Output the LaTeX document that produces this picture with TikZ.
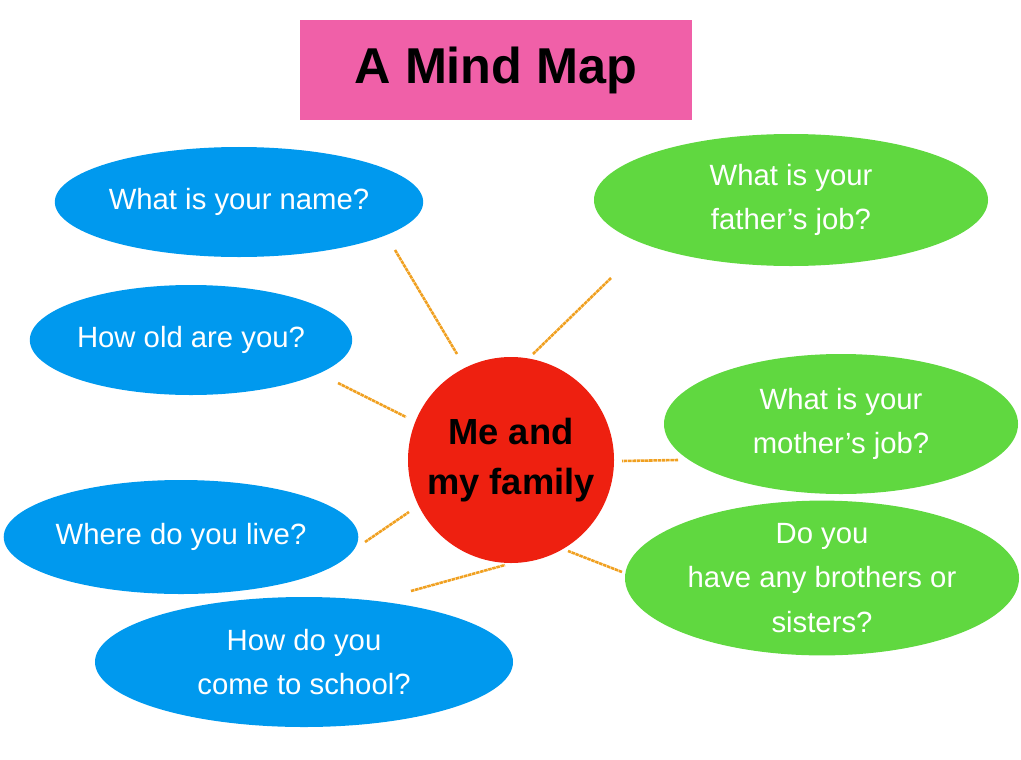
\documentclass[tikz,border=0pt]{standalone}
\usepackage{fontspec}
\setmainfont{Liberation Sans}
\usetikzlibrary{shapes.geometric}
\definecolor{titlepink}{HTML}{F060A8}
\definecolor{askblue}{HTML}{0099EE}
\definecolor{askgreen}{HTML}{60D840}
\definecolor{hubred}{HTML}{EE2010}
\definecolor{linkorange}{HTML}{F0A020}
\tikzset{%
title/.style={fill=titlepink,font=\bfseries\fontsize{43}{50}\selectfont},
hub/.style={circle,fill=hubred,inner sep=0pt,align=center,font=\bfseries\fontsize{31}{42}\selectfont},
question/.style={ellipse,inner sep=0pt,text=white,align=center,font=\fontsize{25}{38}\selectfont},
blueq/.style={question,fill=askblue},
greenq/.style={question,fill=askgreen},
link/.style={draw=linkorange,line width=2.2pt,dash pattern=on 3pt off 0.6pt}
}
\begin{document}
\begin{tikzpicture}[x=0.03cm,y=-0.03cm]
\useasboundingbox (0,0) rectangle (1021,759);
\node[title,minimum width=11.73cm,minimum height=2.97cm] (head) at (496,70) {A Mind Map};
\node[hub,minimum size=6.18cm] (me) at (511,460) {Me and\\my family};
\node[blueq,minimum width=10.62cm,minimum height=3.3cm]  (name)   at (239,202) {What is your name?};
\node[blueq,minimum width=9.42cm,minimum height=3.3cm]   (age)    at (191,340) {How old are you?};
\node[blueq,minimum width=10.62cm,minimum height=3.42cm] (live)   at (181,537) {Where do you live?};
\node[blueq,minimum width=12.54cm,minimum height=3.9cm]  (school) at (304,662) {How do you\\come to school?};
\node[greenq,minimum width=11.82cm,minimum height=3.96cm] (father)  at (791,200) {What is your\\father’s job?};
\node[greenq,minimum width=10.62cm,minimum height=4.2cm]  (mother)  at (841,424) {What is your\\mother’s job?};
\node[greenq,minimum width=11.82cm,minimum height=4.5cm]  (sibling) at (822,578) {Do you\\have any brothers or\\sisters?};
% link ends
\foreach \n/\ax/\ay/\bx/\by in {name/395/250/457/354,
                      age/338/383/406/417,
                      live/365/542/409/512,
                      school/411/591/505/565,
                      father/611/278/533/354,
                      mother/678/460/622/461,
                      sibling/622/572/568/551}
{
  \coordinate (\n-out) at (\ax,\ay);
  \coordinate (\n-in)  at (\bx,\by);
  \draw[link] (\n-out) -- (\n-in);
}
\end{tikzpicture}
\end{document}
